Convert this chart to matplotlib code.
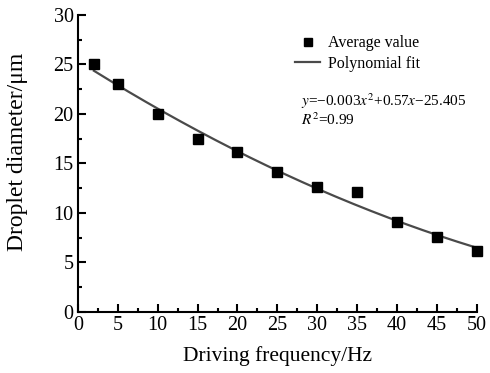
import numpy as np
import matplotlib.pyplot as plt
from matplotlib.ticker import MultipleLocator

# dados
freq = [2, 5, 10, 15, 20, 25, 30, 35, 40, 45, 50]
diam = [25.0, 23.0, 20.0, 17.5, 16.1, 14.1, 12.6, 12.1, 9.1, 7.6, 6.1]

plt.rcParams['font.family'] = ['Liberation Serif', 'DejaVu Serif']
plt.rcParams['mathtext.fontset'] = 'stix'

fig = plt.figure(figsize=(4.9, 3.73), dpi=100)
ax = fig.add_axes([0.159, 0.164, 0.814, 0.796])

# ajuste polinomial de 2a ordem
coef = np.polyfit(freq, diam, 2)
xs = np.linspace(freq[0], freq[-1], 200)
ax.plot(xs, np.polyval(coef, xs), color='#4a4a4a', lw=1.6, label='Polynomial fit', zorder=2)
ax.plot(freq, diam, 's', color='black', ms=6.5, label='Average value', zorder=3, clip_on=False)

ax.set_xlim(0, 50)
ax.set_ylim(0, 30)
ax.xaxis.set_major_locator(MultipleLocator(5))
ax.xaxis.set_minor_locator(MultipleLocator(2.5))
ax.yaxis.set_major_locator(MultipleLocator(5))
ax.yaxis.set_minor_locator(MultipleLocator(2.5))
ax.tick_params(which='both', direction='in', width=1.5, labelsize=14.5, pad=3)
ax.tick_params(which='major', length=6)
ax.tick_params(which='minor', length=3)
ax.spines['top'].set_visible(False)
ax.spines['right'].set_visible(False)
ax.spines['left'].set_linewidth(1.5)
ax.spines['bottom'].set_linewidth(1.5)

ax.set_xlabel('Driving frequency/Hz', fontsize=15.5, labelpad=8)
ax.set_ylabel('Droplet diameter/\u03bcm', fontsize=17)
ax.yaxis.set_label_coords(-0.125, 0.54)

h, l = ax.get_legend_handles_labels()
ax.legend(h[::-1], l[::-1], loc='upper left', bbox_to_anchor=(0.508, 0.98), frameon=False,
          fontsize=11.5, handlelength=1.6, handletextpad=0.5, labelspacing=0.3, markerscale=0.85)

ax.text(0.56, 0.693, '$y$=\u22120.003$x^2$+0.57$x$\u221225.405', transform=ax.transAxes, fontsize=11)
ax.text(0.56, 0.628, '$R^2$=0.99', transform=ax.transAxes, fontsize=11)

fig.savefig('out.png', dpi=100)
